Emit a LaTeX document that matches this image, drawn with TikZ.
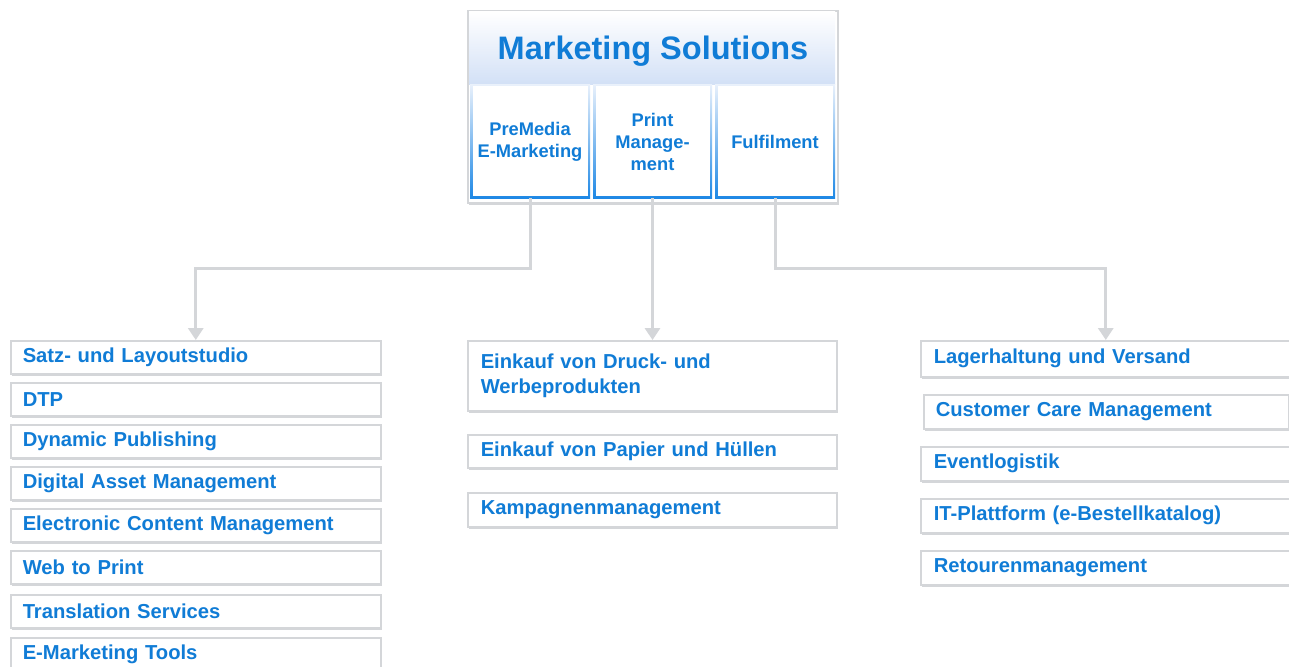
\documentclass[tikz,border=0pt]{standalone}
\usepackage{fontspec}
\setmainfont{Liberation Sans}
\usetikzlibrary{arrows.meta,shadows,calc}
\definecolor{tblue}{RGB}{16,124,214}
\definecolor{lgrey}{RGB}{212,214,217}
\definecolor{bandblue}{RGB}{210,224,246}
\definecolor{bblue}{RGB}{30,136,229}
\definecolor{bbluel}{RGB}{232,240,251}
\begin{document}
\begin{tikzpicture}[x=1pt,y=-1pt,
  itembox/.style={draw=lgrey, line width=1.5pt, fill=white, anchor=north west,
    inner xsep=12pt, inner ysep=0pt, text width=#1, align=left,
    font=\bfseries\fontsize{20.2}{25}\selectfont, text=tblue,
    drop shadow={shadow xshift=1.2pt, shadow yshift=-1.8pt, fill=lgrey, opacity=1}},
  subtext/.style={font=\bfseries\fontsize{18.3}{22}\selectfont, text=tblue, align=center,
    inner sep=0pt, minimum width=120pt, minimum height=113pt},
  conn/.style={draw=lgrey, line width=3pt, -{Triangle[width=15pt,length=12pt]}}]
\clip (0,0) rectangle (1289,666);
\fill[white] (0,0) rectangle (1289,666);

% header
\node[draw=lgrey, line width=2pt, fill=white, minimum width=370pt, minimum height=192pt,
  anchor=north west, inner sep=0pt,
  drop shadow={shadow xshift=1pt, shadow yshift=-1.5pt, fill=lgrey, opacity=1}] (hdr) at (467,10) {};
\shade[top color=white, bottom color=bandblue] (469,12) rectangle (835,85);
\node[font=\bfseries\fontsize{32.5}{36}\selectfont, text=tblue] (title) at (653,51) {Marketing Solutions};

\shade[top color=bbluel, bottom color=bblue] (470,85) rectangle (590,198);
\fill[white] (472.5,86.5) rectangle (587.5,195.5);
\shade[top color=bbluel, bottom color=bblue] (593,85) rectangle (712,198);
\fill[white] (595.5,86.5) rectangle (709.5,195.5);
\shade[top color=bbluel, bottom color=bblue] (715,85) rectangle (835,198);
\fill[white] (717.5,86.5) rectangle (832.5,195.5);

\node[subtext] (pm) at (530,141.5) {PreMedia\\E-Marketing};
\node[subtext] (pr) at (652.5,141.5) {Print\\Manage-\\ment};
\node[subtext] (ff) at (775,141.5) {Fulfilment};

% left column
\node[itembox=346pt, minimum height=33pt] (l1) at (10,340) {Satz- und Layoutstudio};
\node[itembox=346pt, minimum height=33pt] (l2) at (10,382) {DTP};
\node[itembox=346pt, minimum height=33pt] (l3) at (10,424) {Dynamic Publishing};
\node[itembox=346pt, minimum height=33pt] (l4) at (10,466) {Digital Asset Management};
\node[itembox=346pt, minimum height=33pt] (l5) at (10,508) {Electronic Content Management};
\node[itembox=346pt, minimum height=33pt] (l6) at (10,550) {Web to Print};
\node[itembox=346pt, minimum height=33pt] (l7) at (10,594) {Translation Services};
\node[itembox=346pt, minimum height=33pt] (l8) at (10,637) {E-Marketing Tools};

% middle column
\node[itembox=343pt, minimum height=70pt, inner xsep=13pt] (m1) at (467,340) {Einkauf von Druck- und\\Werbeprodukten};
\node[itembox=343pt, minimum height=33pt, inner xsep=13pt] (m2) at (467,434) {Einkauf von Papier und Hüllen};
\node[itembox=343pt, minimum height=34pt, inner xsep=13pt] (m3) at (467,492) {Kampagnenmanagement};

% right column
\node[itembox=344pt, minimum height=36pt, inner xsep=13pt] (r1) at (920,340) {Lagerhaltung und Versand};
\node[itembox=341pt, minimum height=34pt, inner xsep=12pt] (r2) at (923,394) {Customer Care Management};
\node[itembox=344pt, minimum height=34pt, inner xsep=13pt] (r3) at (920,446) {Eventlogistik};
\node[itembox=344pt, minimum height=34pt, inner xsep=13pt] (r4) at (920,498) {IT-Plattform (e-Bestellkatalog)};
\node[itembox=344pt, minimum height=34pt, inner xsep=13pt] (r5) at (920,550) {Retourenmanagement};

% connectors
\draw[conn] (pm.south) -- ++(0,70) -| (l1.north);
\draw[conn] (pr.south) -- (pr.south |- m1.north);
\draw[conn] (ff.south) -- ++(0,70) -| (r1.north);
\end{tikzpicture}
\end{document}
